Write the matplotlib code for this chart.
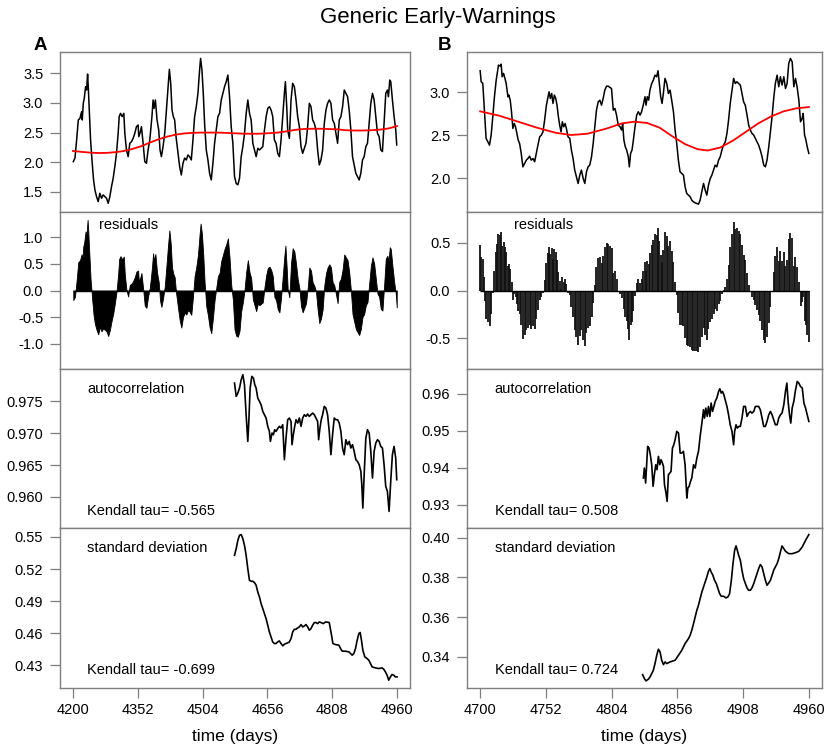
import numpy as np
import matplotlib.pyplot as plt

plt.rcParams['font.family'] = ['Liberation Sans', 'DejaVu Sans']

# ---- panel A: raw series (days, value)
a_t = [4200.8, 4204.7, 4208.6, 4212.5, 4216.4, 4220.3, 4221.8, 4224.2, 4226.5, 4229.6,
       4232.0, 4234.3, 4235.9, 4238.2, 4241.3, 4245.2, 4248.3, 4251.5, 4255.3, 4259.2,
       4263.1, 4267.0, 4270.9, 4274.8, 4278.7, 4282.6, 4286.5, 4290.4, 4294.3, 4298.2,
       4302.1, 4306.0, 4308.4, 4311.5, 4315.4, 4319.3, 4321.6, 4325.5, 4329.4, 4333.3,
       4337.2, 4341.1, 4345.0, 4348.9, 4352.8, 4354.4, 4358.2, 4360.6, 4364.5, 4368.4,
       4372.3, 4376.2, 4380.1, 4382.4, 4385.5, 4387.9, 4390.2, 4393.3, 4397.2, 4401.1,
       4404.2, 4407.4, 4411.3, 4415.2, 4419.1, 4422.9, 4426.1, 4429.2, 4432.3, 4435.4,
       4438.5, 4441.7, 4446.3, 4450.2, 4454.1, 4458.0, 4461.9, 4465.8, 4469.7, 4473.6,
       4477.5, 4481.4, 4485.3, 4489.2, 4493.1, 4497.0, 4499.3, 4502.5, 4505.6, 4508.7,
       4512.6, 4516.5, 4520.4, 4524.3, 4528.2, 4532.1, 4536.0, 4539.9, 4543.8, 4547.7,
       4551.6, 4555.5, 4559.4, 4563.3, 4567.2, 4571.1, 4575.0, 4578.9, 4582.8, 4586.7,
       4590.6, 4594.5, 4598.4, 4602.3, 4606.2, 4610.1, 4614.0, 4617.9, 4621.8, 4625.7,
       4629.6, 4633.5, 4637.4, 4641.3, 4645.2, 4649.1, 4653.0, 4656.9, 4660.8, 4664.7,
       4668.5, 4672.4, 4676.3, 4680.2, 4684.1, 4688.0, 4691.9, 4695.8, 4698.2, 4701.3,
       4703.6, 4707.5, 4711.4, 4715.3, 4719.2, 4723.1, 4727.0, 4730.9, 4734.8, 4738.7,
       4742.6, 4746.5, 4750.4, 4754.3, 4758.2, 4762.1, 4766.0, 4769.9, 4773.8, 4777.7,
       4781.6, 4785.5, 4789.4, 4793.3, 4797.2, 4801.1, 4805.0, 4808.9, 4812.8, 4816.7,
       4820.6, 4824.5, 4828.4, 4832.3, 4836.2, 4840.1, 4844.0, 4847.8, 4851.7, 4855.6,
       4859.5, 4863.4, 4867.3, 4871.2, 4875.1, 4879.0, 4882.9, 4886.8, 4890.7, 4894.6,
       4898.5, 4902.4, 4906.3, 4910.2, 4914.1, 4918.0, 4921.9, 4925.8, 4929.7, 4933.6,
       4937.5, 4939.8, 4943.0, 4945.3, 4949.2, 4953.1, 4957.0, 4959.3]
a_v = [2.01, 2.07, 2.375, 2.713, 2.741, 2.853, 2.713, 2.994, 3.078, 3.275,
       3.218, 3.488, 3.275, 2.881, 2.375, 1.982, 1.701, 1.532, 1.42, 1.335,
       1.476, 1.392, 1.448, 1.42, 1.392, 1.307, 1.42, 1.588, 1.729, 1.926,
       2.15, 2.488, 2.769, 2.825, 2.769, 2.825, 2.488, 2.207, 2.094, 2.319,
       2.347, 2.403, 2.488, 2.6, 2.628, 2.432, 2.516, 2.6, 2.319, 2.01,
       1.982, 2.207, 2.375, 2.544, 2.797, 3.05, 2.909, 3.05, 2.713, 2.544,
       2.207, 2.094, 2.263, 2.488, 2.881, 3.275, 3.567, 3.331, 2.881, 2.769,
       2.713, 2.432, 2.15, 1.926, 1.785, 1.982, 2.07, 2.038, 2.122, 2.094,
       2.038, 2.375, 2.769, 2.937, 3.162, 3.556, 3.752, 3.556, 3.162, 2.656,
       2.207, 2.038, 1.813, 1.701, 1.982, 2.319, 2.544, 2.769, 2.825, 3.05,
       3.162, 3.275, 3.359, 3.471, 3.106, 2.6, 2.32, 1.76, 1.64, 1.62,
       1.729, 2.094, 2.263, 2.488, 2.825, 3.05, 2.825, 2.713, 2.319, 2.207,
       2.094, 2.235, 2.207, 2.235, 2.263, 2.544, 2.769, 2.909, 2.937, 2.881,
       2.769, 2.375, 2.319, 2.15, 2.094, 2.375, 2.769, 3.162, 3.359, 2.937,
       2.544, 2.403, 3.05, 3.331, 3.275, 3.05, 2.769, 2.6, 2.263, 2.15,
       2.235, 2.319, 2.6, 2.994, 2.937, 2.713, 2.656, 2.544, 2.207, 1.954,
       2.038, 2.207, 2.656, 2.881, 2.994, 3.05, 2.994, 2.713, 2.656, 2.488,
       2.319, 2.713, 2.769, 2.937, 3.218, 3.162, 3.106, 2.881, 2.544, 2.094,
       1.954, 1.813, 1.757, 1.701, 1.813, 2.038, 2.094, 2.263, 2.319, 2.656,
       2.994, 3.162, 3.05, 2.769, 2.488, 2.432, 2.207, 2.18, 2.656, 3.162,
       3.218, 3.106, 3.387, 3.359, 3.05, 2.769, 2.544, 2.291]
a_trend_t = list(range(4200, 4961, 20))
a_trend_v = [2.19, 2.175, 2.162, 2.155, 2.158, 2.17, 2.19, 2.225, 2.27, 2.33,
             2.385, 2.43, 2.465, 2.485, 2.495, 2.50, 2.50, 2.50, 2.495, 2.488,
             2.482, 2.48, 2.482, 2.49, 2.50, 2.52, 2.545, 2.56, 2.565, 2.565,
             2.56, 2.555, 2.54, 2.535, 2.535, 2.54, 2.55, 2.57, 2.61]

a_acf_t = [4578.9, 4582.8, 4586.7, 4590.6, 4594.5, 4598.4, 4602.2, 4606.1, 4610.0, 4612.4,
           4615.5, 4619.4, 4623.3, 4626.4, 4629.5, 4633.4, 4637.3, 4641.2, 4645.1, 4649.0,
           4652.9, 4656.8, 4660.6, 4663.0, 4666.9, 4670.0, 4673.1, 4676.2, 4680.9, 4684.0,
           4687.9, 4691.9, 4695.8, 4699.6, 4703.6, 4707.5, 4711.4, 4713.7, 4716.8, 4720.0,
           4723.1, 4727.0, 4730.9, 4734.8, 4738.7, 4742.6, 4746.5, 4750.4, 4754.3, 4758.2,
           4762.1, 4766.0, 4769.8, 4773.8, 4776.1, 4779.2, 4782.3, 4785.4, 4789.3, 4793.2,
           4797.1, 4801.0, 4804.9, 4808.8, 4812.7, 4816.6, 4820.5, 4824.4, 4828.3, 4832.2,
           4836.1, 4840.0, 4843.9, 4847.8, 4851.7, 4855.6, 4859.5, 4863.4, 4867.3, 4871.2,
           4875.1, 4877.4, 4879.8, 4882.9, 4886.8, 4890.7, 4894.6, 4898.5, 4902.4, 4906.3,
           4910.2, 4914.1, 4918.0, 4921.8, 4925.8, 4929.6, 4933.5, 4937.4, 4941.3, 4945.2,
           4949.1, 4953.0, 4956.9, 4959.3]
a_acf_v = [0.97789, 0.97579, 0.97632, 0.97710, 0.97841, 0.97920, 0.97763, 0.97291, 0.96872, 0.97186,
           0.97710, 0.97894, 0.97867, 0.97763, 0.97710, 0.97553, 0.97501, 0.97448, 0.97344, 0.97291,
           0.97239, 0.97108, 0.97029, 0.96872, 0.97003, 0.96977, 0.97055, 0.97029, 0.97082, 0.97108,
           0.97082, 0.97134, 0.96584, 0.96924, 0.97213, 0.97239, 0.97186, 0.96820, 0.96977, 0.97108,
           0.97213, 0.97160, 0.97239, 0.97108, 0.97239, 0.97291, 0.97265, 0.97302, 0.97265, 0.97291,
           0.97317, 0.97291, 0.97239, 0.97186, 0.96898, 0.97082, 0.97213, 0.97291, 0.97422, 0.97396,
           0.97291, 0.97029, 0.96662, 0.96977, 0.97239, 0.97213, 0.97213, 0.97160, 0.97029, 0.96767,
           0.96662, 0.96898, 0.96820, 0.96872, 0.96767, 0.96820, 0.96715, 0.96584, 0.96557, 0.96505,
           0.96400, 0.96191, 0.95824, 0.96348, 0.96924, 0.97055, 0.97003, 0.96715, 0.96295, 0.96715,
           0.96846, 0.96898, 0.96872, 0.96793, 0.96767, 0.96505, 0.96164, 0.96086, 0.95771, 0.96243,
           0.96662, 0.96793, 0.96610, 0.96269]

a_sd_t = [4578.9, 4582.8, 4586.7, 4590.6, 4594.5, 4598.4, 4602.2, 4606.1, 4610.0, 4613.9,
          4617.8, 4621.7, 4625.6, 4629.5, 4633.4, 4637.3, 4641.2, 4645.1, 4649.0, 4652.9,
          4656.8, 4660.6, 4664.5, 4668.4, 4672.3, 4676.2, 4680.1, 4684.0, 4687.9, 4691.9,
          4695.8, 4699.6, 4703.6, 4707.5, 4711.4, 4715.3, 4719.2, 4723.1, 4727.0, 4730.9,
          4734.8, 4738.7, 4742.6, 4746.5, 4750.4, 4754.3, 4758.2, 4762.1, 4766.0, 4769.8,
          4773.8, 4777.7, 4781.6, 4787.0, 4792.5, 4801.0, 4806.4, 4809.6, 4815.8, 4823.6,
          4827.5, 4831.4, 4839.2, 4847.0, 4854.8, 4858.7, 4862.6, 4866.5, 4870.4, 4873.5,
          4876.6, 4879.8, 4884.4, 4889.9, 4893.8, 4897.7, 4901.6, 4909.4, 4917.2, 4924.9,
          4928.8, 4932.7, 4936.6, 4940.5, 4944.4, 4948.3, 4952.2, 4956.1, 4960.0]
a_sd_v = [0.5329, 0.5391, 0.5469, 0.5516, 0.5522, 0.5485, 0.5422, 0.5329, 0.5204, 0.5095,
          0.5086, 0.5086, 0.5074, 0.5049, 0.4986, 0.4940, 0.4877, 0.4831, 0.4784, 0.4737,
          0.4675, 0.4612, 0.4566, 0.4519, 0.4504, 0.4504, 0.4519, 0.4528, 0.4504, 0.4482,
          0.4497, 0.4504, 0.4510, 0.4519, 0.4550, 0.4612, 0.4637, 0.4637, 0.4650, 0.4659,
          0.4681, 0.4659, 0.4668, 0.4681, 0.4659, 0.4628, 0.4644, 0.4675, 0.4700, 0.4700,
          0.4690, 0.4706, 0.4700, 0.4690, 0.4706, 0.4700, 0.4581, 0.4504, 0.4494, 0.4488,
          0.4457, 0.4432, 0.4432, 0.4426, 0.4395, 0.4410, 0.4457, 0.4535, 0.4597, 0.4607,
          0.4535, 0.4441, 0.4379, 0.4363, 0.4348, 0.4317, 0.4285, 0.4276, 0.4270, 0.4276,
          0.4264, 0.4239, 0.4208, 0.4161, 0.4192, 0.4214, 0.4208, 0.4192, 0.4192]

# ---- panel B
b_t = [4700.0, 4700.8, 4702.1, 4702.9, 4703.9, 4704.7, 4706.1, 4707.4, 4708.7, 4710.0,
       4711.3, 4712.7, 4713.5, 4714.5, 4715.9, 4716.6, 4717.4, 4718.5, 4719.6, 4720.6,
       4722.0, 4722.7, 4723.8, 4724.8, 4725.9, 4727.0, 4728.0, 4729.1, 4730.1, 4731.2,
       4732.5, 4733.8, 4735.2, 4736.5, 4737.8, 4739.1, 4740.4, 4741.8, 4743.1, 4744.4,
       4745.7, 4747.1, 4748.4, 4749.7, 4751.0, 4752.4, 4753.7, 4754.5, 4755.5, 4756.6,
       4757.6, 4758.7, 4759.8, 4760.8, 4761.9, 4762.9, 4764.0, 4765.0, 4766.1, 4767.2,
       4768.2, 4769.5, 4770.9, 4772.2, 4773.5, 4774.8, 4776.2, 4777.5, 4778.8, 4780.1,
       4781.5, 4782.8, 4784.1, 4785.4, 4786.7, 4788.1, 4789.4, 4790.7, 4792.0, 4793.4,
       4794.7, 4796.0, 4797.3, 4798.6, 4800.0, 4801.3, 4802.6, 4803.9, 4805.3, 4806.6,
       4807.9, 4809.2, 4810.6, 4811.9, 4812.7, 4813.7, 4814.8, 4815.9, 4817.2, 4818.0,
       4819.0, 4820.1, 4821.2, 4822.5, 4823.8, 4825.1, 4826.5, 4827.7, 4829.0, 4830.4,
       4831.2, 4832.2, 4833.3, 4834.3, 4835.7, 4837.0, 4838.3, 4839.6, 4840.7, 4841.7,
       4842.8, 4843.9, 4844.9, 4846.2, 4847.6, 4848.9, 4850.2, 4851.5, 4852.9, 4854.2,
       4855.5, 4856.8, 4858.1, 4859.5, 4860.8, 4862.1, 4863.4, 4864.8, 4866.1, 4867.4,
       4868.7, 4870.0, 4871.4, 4872.7, 4874.0, 4875.3, 4876.7, 4878.0, 4879.3, 4880.6,
       4882.0, 4883.3, 4884.6, 4885.9, 4887.2, 4888.6, 4889.9, 4891.2, 4892.5, 4893.9,
       4895.2, 4896.5, 4897.8, 4899.2, 4900.5, 4901.8, 4903.1, 4904.4, 4905.8, 4907.1,
       4908.4, 4909.7, 4911.1, 4912.4, 4913.7, 4915.0, 4916.4, 4917.7, 4919.0, 4920.3,
       4921.6, 4923.0, 4924.3, 4925.6, 4926.9, 4928.3, 4929.6, 4930.9, 4932.2, 4933.5,
       4934.9, 4936.2, 4937.5, 4938.8, 4940.2, 4941.5, 4942.8, 4944.1, 4945.4, 4946.8,
       4948.1, 4949.4, 4950.7, 4952.1, 4953.4, 4954.7, 4955.5, 4956.6, 4957.4, 4958.7,
       4960.0]
b_v = [3.252, 3.124, 3.104, 2.91, 2.659, 2.465, 2.426, 2.387, 2.504, 2.717,
       2.949, 3.143, 3.221, 3.318, 3.306, 3.329, 3.182, 3.221, 3.163, 3.104,
       2.949, 2.969, 2.91, 2.775, 2.581, 2.639, 2.601, 2.523, 2.446, 2.407,
       2.291, 2.135, 2.174, 2.213, 2.232, 2.259, 2.213, 2.232, 2.194, 2.291,
       2.387, 2.484, 2.504, 2.542, 2.678, 2.852, 2.949, 3.007, 2.93, 2.988,
       2.872, 2.969, 2.93, 2.852, 2.717, 2.62, 2.542, 2.659, 2.601, 2.639,
       2.581, 2.484, 2.465, 2.329, 2.232, 2.097, 2.019, 1.942, 2.039, 2.097,
       2.0, 1.942, 2.077, 2.135, 2.155, 2.252, 2.407, 2.601, 2.794, 2.891,
       2.91, 2.852, 2.93, 3.027, 3.073, 3.073, 3.058, 3.046, 2.794, 2.814,
       2.736, 2.62, 2.601, 2.562, 2.639, 2.446, 2.368, 2.329, 2.252, 2.135,
       2.291, 2.329, 2.446, 2.601, 2.736, 2.775, 2.736, 2.775, 2.852, 2.95,
       2.852, 2.95, 2.91, 3.027, 3.104, 3.143, 3.201, 3.182, 3.252, 3.104,
       2.95, 2.872, 2.988, 3.163, 3.104, 2.988, 3.027, 2.91, 2.775, 2.562,
       2.407, 2.213, 2.077, 2.058, 2.039, 1.903, 1.825, 1.806, 1.787, 1.748,
       1.728, 1.717, 1.709, 1.701, 1.748, 1.845, 1.942, 1.864, 1.806, 1.922,
       2.0, 2.039, 2.097, 2.155, 2.135, 2.213, 2.252, 2.329, 2.387, 2.426,
       2.523, 2.678, 2.872, 3.027, 3.163, 3.104, 3.124, 3.104, 3.085, 2.988,
       2.891, 2.852, 2.736, 2.62, 2.562, 2.523, 2.504, 2.465, 2.426, 2.387,
       2.329, 2.252, 2.155, 2.135, 2.213, 2.368, 2.542, 2.717, 2.93, 3.104,
       3.201, 3.066, 3.182, 3.085, 3.182, 3.046, 3.104, 3.337, 3.395, 3.356,
       3.066, 3.163, 3.066, 2.91, 2.659, 2.698, 2.756, 2.504, 2.465, 2.368,
       2.291]
b_trend_t = [4700, 4715, 4730, 4745, 4760, 4772, 4785, 4800, 4812, 4822, 4832, 4842,
             4852, 4862, 4872, 4880, 4890, 4900, 4910, 4920, 4930, 4940, 4950, 4960]
b_trend_v = [2.78, 2.73, 2.66, 2.59, 2.53, 2.505, 2.52, 2.58, 2.64, 2.66, 2.645, 2.59,
             2.49, 2.40, 2.34, 2.325, 2.36, 2.44, 2.54, 2.64, 2.72, 2.78, 2.815, 2.83]

b_acf_t = [4829.1, 4829.9, 4830.9, 4831.7, 4832.5, 4833.6, 4834.6, 4835.7, 4836.8, 4837.8,
           4838.9, 4839.9, 4841.0, 4842.1, 4843.1, 4844.2, 4845.0, 4845.8, 4846.8, 4847.9,
           4848.9, 4850.0, 4851.0, 4852.1, 4853.2, 4854.2, 4855.5, 4856.9, 4858.2, 4859.5,
           4860.8, 4862.1, 4863.5, 4864.3, 4865.3, 4866.4, 4867.4, 4868.8, 4870.1, 4871.4,
           4872.7, 4874.0, 4875.4, 4876.7, 4877.5, 4878.5, 4879.6, 4880.6, 4881.7, 4882.7,
           4883.8, 4884.9, 4885.9, 4887.2, 4888.6, 4889.6, 4890.7, 4891.7, 4892.8, 4893.8,
           4895.2, 4896.5, 4897.8, 4899.2, 4900.5, 4901.3, 4902.4, 4903.4, 4904.5, 4905.8,
           4907.1, 4908.4, 4909.8, 4911.1, 4912.4, 4913.7, 4915.0, 4916.4, 4917.7, 4919.0,
           4920.3, 4921.6, 4923.0, 4924.3, 4925.6, 4926.9, 4928.3, 4929.6, 4930.9, 4932.2,
           4933.5, 4934.9, 4936.2, 4937.5, 4938.8, 4940.2, 4941.5, 4942.6, 4943.6, 4944.7,
           4945.7, 4946.8, 4948.1, 4949.5, 4950.8, 4952.1, 4953.4, 4954.8, 4956.1, 4957.4,
           4958.7, 4960.0]
b_acf_v = [0.93721, 0.93991, 0.93586, 0.94081, 0.94577, 0.94532, 0.94352, 0.94081, 0.93496, 0.93811,
           0.94081, 0.93946, 0.94307, 0.94081, 0.94216, 0.94126, 0.94036, 0.93541, 0.93360, 0.93090,
           0.93811, 0.93856, 0.93901, 0.94532, 0.94622, 0.94757, 0.94982, 0.94937, 0.94397, 0.94397,
           0.94442, 0.94081, 0.93180, 0.93450, 0.93496, 0.93631, 0.93721, 0.94081, 0.93991, 0.94261,
           0.94442, 0.94847, 0.95207, 0.95568, 0.95342, 0.95613, 0.95387, 0.95658, 0.95387, 0.95748,
           0.95523, 0.95658, 0.95793, 0.95883, 0.96063, 0.96135, 0.96018, 0.96063, 0.95973, 0.95838,
           0.95658, 0.95432, 0.95162, 0.94982, 0.94622, 0.94982, 0.95162, 0.95072, 0.95117, 0.95117,
           0.95342, 0.95658, 0.95658, 0.95387, 0.95477, 0.95522, 0.95477, 0.95522, 0.95658, 0.95658,
           0.95658, 0.95568, 0.95342, 0.95117, 0.95117, 0.95252, 0.95432, 0.95522, 0.95432, 0.95297,
           0.95162, 0.95162, 0.95342, 0.95432, 0.95477, 0.95703, 0.96063, 0.96288, 0.95793, 0.95432,
           0.95207, 0.95613, 0.95793, 0.96108, 0.96333, 0.96288, 0.96198, 0.96153, 0.95748, 0.95613,
           0.95432, 0.95252]

b_sd_t = [4828.5, 4829.9, 4831.2, 4833.0, 4834.4, 4835.7, 4837.0, 4838.3, 4839.7, 4841.0,
          4842.3, 4843.6, 4845.0, 4846.3, 4847.6, 4850.2, 4854.2, 4856.9, 4859.5, 4862.1,
          4864.8, 4866.1, 4867.4, 4868.8, 4870.1, 4871.4, 4872.7, 4874.0, 4875.4, 4876.7,
          4878.0, 4879.3, 4880.6, 4881.7, 4882.7, 4884.1, 4885.4, 4886.8, 4888.1, 4889.4,
          4890.7, 4892.6, 4894.4, 4896.0, 4897.3, 4898.7, 4900.0, 4901.3, 4902.4, 4903.4,
          4904.5, 4905.8, 4907.1, 4908.4, 4909.8, 4911.1, 4912.4, 4913.7, 4915.0, 4916.4,
          4917.7, 4919.0, 4920.3, 4921.6, 4923.0, 4924.3, 4925.6, 4926.9, 4928.3, 4929.6,
          4930.9, 4932.2, 4933.5, 4934.9, 4936.2, 4937.5, 4938.8, 4941.5, 4944.1, 4946.8,
          4949.5, 4952.1, 4954.8, 4957.4, 4960.0]
b_sd_v = [0.33114, 0.32913, 0.32796, 0.32880, 0.32997, 0.33164, 0.33332, 0.33667, 0.34086, 0.34387,
          0.34253, 0.33834, 0.33616, 0.33751, 0.33667, 0.33751, 0.33834, 0.34086, 0.34337, 0.34672,
          0.34923, 0.35090, 0.35342, 0.35677, 0.36012, 0.36347, 0.36598, 0.36933, 0.37268, 0.37519,
          0.37770, 0.38022, 0.38306, 0.38440, 0.38273, 0.38105, 0.37854, 0.37687, 0.37436, 0.37184,
          0.37050, 0.37050, 0.36967, 0.37017, 0.37184, 0.37854, 0.38692, 0.39362, 0.39580, 0.39362,
          0.39110, 0.38859, 0.38357, 0.37938, 0.37687, 0.37469, 0.37352, 0.37352, 0.37469, 0.37687,
          0.37938, 0.38189, 0.38440, 0.38642, 0.38524, 0.38189, 0.37854, 0.37603, 0.37720, 0.37854,
          0.38105, 0.38357, 0.38524, 0.38692, 0.38943, 0.39278, 0.39580, 0.39312, 0.39190, 0.39190,
          0.39240, 0.39310, 0.39530, 0.39860, 0.40150]

a_tau = ['Kendall tau= -0.565', 'Kendall tau= -0.699']
b_tau = ['Kendall tau= 0.508', 'Kendall tau= 0.724']

a_xticks = [4200, 4352, 4504, 4656, 4808, 4960]
b_xticks = [4700, 4752, 4804, 4856, 4908, 4960]

# ---- layout (pixel boxes of the reference)
W, H = 830, 752
fig = plt.figure(figsize=(W / 100, H / 100), dpi=100)

def box(x0, x1, y0, y1):
    return [x0 / W, 1 - y1 / H, (x1 - x0) / W, (y1 - y0) / H]

rows = [(52, 212), (212, 369), (369, 528), (528, 688)]
cols = [(60, 410), (467, 822)]
grey = '#7f7f7f'

def style(ax, xlim, yticks, ylabels, ylim, bottom=False, xticks=None):
    for s in ax.spines.values():
        s.set_color(grey)
        s.set_linewidth(1.0)
    ax.set_xlim(*xlim)
    ax.set_ylim(*ylim)
    ax.set_yticks(yticks, ylabels)
    ax.tick_params(axis='both', colors=grey, labelcolor='black', labelsize=10.5,
                   length=7, width=0.9, direction='out')
    ax.tick_params(axis='y', pad=5)
    if bottom:
        ax.set_xticks(xticks, [str(x) for x in xticks])
        ax.tick_params(axis='x', pad=4)
    else:
        ax.set_xticks([])

def label(ax, x, y, s):
    ax.text(x, y, s, transform=ax.transAxes, ha='left', va='center', fontsize=10.5)

panels = [
    dict(col=cols[0], t=a_t, v=a_v, tt=a_trend_t, tv=a_trend_v,
         at=a_acf_t, av=a_acf_v, st=a_sd_t, sv=a_sd_v, tau=a_tau, xticks=a_xticks,
         xlim=(4169.6, 4990.4),
         y0=([1.5, 2.0, 2.5, 3.0, 3.5], ['1.5', '2.0', '2.5', '3.0', '3.5'], (1.16, 3.86)),
         y1=([-1.0, -0.5, 0.0, 0.5, 1.0], ['-1.0', '-0.5', '0.0', '0.5', '1.0'], (-1.47, 1.47)),
         y2=([0.960, 0.965, 0.970, 0.975], ['0.960', '0.965', '0.970', '0.975'], (0.9551, 0.9801)),
         y3=([0.43, 0.46, 0.49, 0.52, 0.55], ['0.43', '0.46', '0.49', '0.52', '0.55'], (0.4088, 0.5584)),
         resx=0.111, fill=True, tag='A', tagx=40),
    dict(col=cols[1], t=b_t, v=b_v, tt=b_trend_t, tv=b_trend_v,
         at=b_acf_t, av=b_acf_v, st=b_sd_t, sv=b_sd_v, tau=b_tau, xticks=b_xticks,
         xlim=(4689.6, 4970.4),
         y0=([2.0, 2.5, 3.0], ['2.0', '2.5', '3.0'], (1.61, 3.47)),
         y1=([-0.5, 0.0, 0.5], ['-0.5', '0.0', '0.5'], (-0.82, 0.82)),
         y2=([0.93, 0.94, 0.95, 0.96], ['0.93', '0.94', '0.95', '0.96'], (0.9237, 0.9667)),
         y3=([0.34, 0.36, 0.38, 0.40], ['0.34', '0.36', '0.38', '0.40'], (0.3244, 0.4048)),
         resx=0.133, fill=False, tag='B', tagx=444),
]

for p in panels:
    x0, x1 = p['col']
    t = np.array(p['t'])
    v = np.array(p['v'])
    res = v - np.interp(t, p['tt'], p['tv'])

    ax = fig.add_axes(box(x0, x1, *rows[0]))
    ax.plot(t, v, color='black', lw=1.1)
    ax.plot(p['tt'], p['tv'], color='red', lw=1.3)
    style(ax, p['xlim'], *p['y0'])

    ax = fig.add_axes(box(x0, x1, *rows[1]))
    if p['fill']:
        ax.fill_between(t, 0, res, color='black', lw=0.6)
    else:
        ax.vlines(t, 0, res, color='#111111', lw=1.3)
    ax.hlines(0, t[0], t[-1], color='black', lw=1.0)
    style(ax, p['xlim'], *p['y1'])
    label(ax, p['resx'], 0.917, 'residuals')

    ax = fig.add_axes(box(x0, x1, *rows[2]))
    ax.plot(p['at'], p['av'], color='black', lw=1.2)
    style(ax, p['xlim'], *p['y2'])
    label(ax, 0.078, 0.874, 'autocorrelation')
    label(ax, 0.078, 0.109, p['tau'][0])

    ax = fig.add_axes(box(x0, x1, *rows[3]))
    ax.plot(p['st'], p['sv'], color='black', lw=1.2)
    style(ax, p['xlim'], *p['y3'], bottom=True, xticks=p['xticks'])
    label(ax, 0.078, 0.877, 'standard deviation')
    label(ax, 0.078, 0.112, p['tau'][1])

    fig.text((x0 + x1) / 2 / W, 1 - 736 / H, 'time (days)', ha='center', va='center', fontsize=12.5)
    fig.text(p['tagx'] / W, 1 - 45 / H, p['tag'], ha='center', va='center',
             fontsize=13.5, fontweight='bold')

fig.text(438 / W, 1 - 18 / H, 'Generic Early-Warnings', ha='center', va='center', fontsize=16)

fig.savefig('out.png', dpi=100)
